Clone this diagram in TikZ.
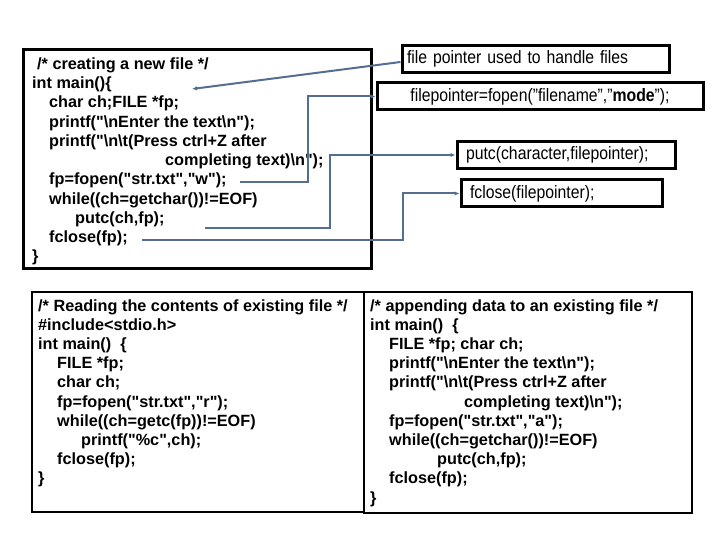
\documentclass[tikz,border=0pt]{standalone}
\usepackage{fontspec}
\setmainfont{Liberation Sans}
\newfontfamily\codefont{Liberation Sans}[Ligatures=TeXOff]
\newfontfamily\notefont{Liberation Sans}[FakeStretch=0.88]
\usepackage{xcolor}
\usetikzlibrary{arrows.meta}

\definecolor{linkblue}{RGB}{84,110,143}
\tikzset{
    codeline/.style={anchor=base west, inner sep=0pt, font=\codefont\bfseries\fontsize{16.3}{19}\selectfont},
    note/.style={draw=black, line width=3bp, inner xsep=9bp, inner ysep=0pt, minimum height=27bp, align=left, font=\notefont\fontsize{18}{20}\selectfont},
    link/.style={draw=linkblue, line width=2bp, -{Latex[length=5bp,width=4.5bp]}}
}
\newcommand{\bs}{\textbackslash}

\begin{document}
\begin{tikzpicture}[x=1bp, y=-1bp]
        \useasboundingbox (0,0) rectangle (720,540);

        \draw[line width=3bp] (23,50) rectangle (371.5,268);
        \draw[line width=2bp] (32,292) rectangle (364,512);
        \draw[line width=2bp] (364,292) rectangle (692,513);

        \node[codeline] (c1) at (37,69.5) {/* creating a new file */};
        \node[codeline] (c2) at (32,88.75) {int main()\{};
        \node[codeline] (c3) at (49,108) {char ch;FILE *fp;};
        \node[codeline] (c4) at (49,127.25) {printf("\bs nEnter the text\bs n");};
        \node[codeline] (c5) at (49,146.5) {printf("\bs n\bs t(Press ctrl+Z after};
        \node[codeline] (c6) at (165,165.75) {completing text)\bs n");};
        \node[codeline] (c7) at (49,185) {fp=fopen("str.txt","w");};
        \node[codeline] (c8) at (49,204.25) {while((ch=getchar())!=EOF)};
        \node[codeline] (c9) at (75,223.5) {putc(ch,fp);};
        \node[codeline] (c10) at (49,242.75) {fclose(fp);};
        \node[codeline] (c11) at (32,262) {\}};

        \node[codeline] (r1) at (38,311) {/* Reading the contents of existing file */};
        \node[codeline] (r2) at (38,330.2) {\#include<stdio.h>};
        \node[codeline] (r3) at (38,349.4) {int main()\ \ \{};
        \node[codeline] (r4) at (57,368.6) {FILE *fp;};
        \node[codeline] (r5) at (57,387.8) {char ch;};
        \node[codeline] (r6) at (57,407) {fp=fopen("str.txt","r");};
        \node[codeline] (r7) at (57,426.2) {while((ch=getc(fp))!=EOF)};
        \node[codeline] (r8) at (81,445.4) {printf("\%c",ch);};
        \node[codeline] (r9) at (57,464.6) {fclose(fp);};
        \node[codeline] (r10) at (38,483.8) {\}};

        \node[codeline] (a1) at (370,311) {/* appending data to an existing file */};
        \node[codeline] (a2) at (370,330.2) {int main()\ \ \{};
        \node[codeline] (a3) at (389,349.4) {FILE *fp; char ch;};
        \node[codeline] (a4) at (389,368.6) {printf("\bs nEnter the text\bs n");};
        \node[codeline] (a5) at (389,387.8) {printf("\bs n\bs t(Press ctrl+Z after};
        \node[codeline] (a6) at (464,407) {completing text)\bs n");};
        \node[codeline] (a7) at (389,426.2) {fp=fopen("str.txt","a");};
        \node[codeline] (a8) at (389,445.4) {while((ch=getchar())!=EOF)};
        \node[codeline] (a9) at (437,464.6) {putc(ch,fp);};
        \node[codeline] (a10) at (389,483.8) {fclose(fp);};
        \node[codeline] (a11) at (370,503) {\}};

        \node[note, inner xsep=5bp, text width=257bp] (fptr) at (535.5,59) {file pointer used to handle files};
        \node[note, inner xsep=6bp, text width=314bp, align=center] (fopen) at (540,96.5) {filepointer=fopen(”filename”,”\textbf{mode}”);};
        \node[note, text width=200bp] (putc) at (566,155) {putc(character,filepointer);};
        \node[note, text width=183bp] (fclose) at (561.5,193.5) {fclose(filepointer);};

        \coordinate (mainpt) at (192,89);
        \coordinate (s2) at (240,182);
        \coordinate (s3) at (205,228);
        \coordinate (s4) at (142,240);

        \draw[link] ([yshift=-3bp]fptr.west) -- (mainpt);
        \draw[link] (s2) -- ++(68,0) |- (fopen.west);
        \draw[link] (s3) -- ++(125,0) |- (putc.west);
        \draw[link] (s4) -- ++(261,0) |- (fclose.west);
    \end{tikzpicture}
\end{document}
